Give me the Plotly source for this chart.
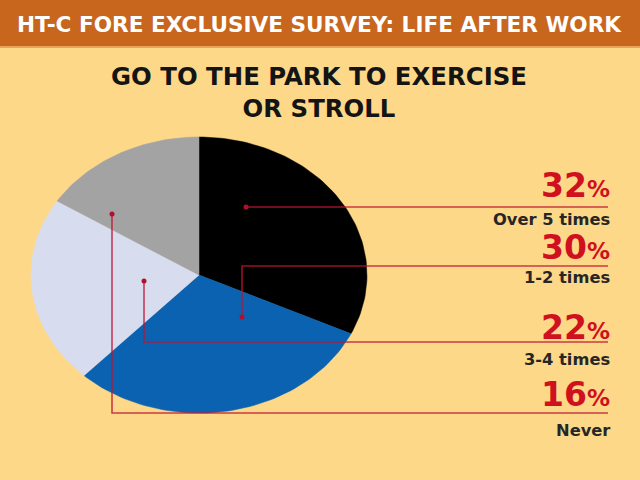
import math
import plotly.graph_objects as go

# ---- data ----
categories = ["Over 5 times", "1-2 times", "3-4 times", "Never"]
shares = [32, 30, 22, 16]
banner_text = "HT-C FORE EXCLUSIVE SURVEY: LIFE AFTER WORK"
title_text = "GO TO THE PARK TO EXERCISE<br>OR STROLL"

# ---- styles / layout positions (pixel space) ----
slice_colors = ["#000000", "#0B62B0", "#D7DCEF", "#A3A3A3"]
BG = "#FDD888"
BANNER = "#C8661E"
RED = "#D0101E"
LINE = "rgba(190,20,50,0.8)"
CX, CY, RX, RY = 199, 275, 168, 138
dot_pos = [(246, 207), (242, 317), (144, 281), (112, 214)]
line_y = [207, 266, 342, 413]
line_end_x = 608
text_right_x = 612
pct_y = [185, 247, 327, 394]
lab_y = [219, 277, 359, 430]

fig = go.Figure()

# elliptical pie slices built from the shares
total = sum(shares)
start = 0.0
for cat, val, col in zip(categories, shares, slice_colors):
    end = start + val / total * 360.0
    n = max(int((end - start) / 1.5), 2)
    xs, ys = [CX], [CY]
    for k in range(n + 1):
        t = math.radians(start + (end - start) * k / n)
        xs.append(CX + RX * math.sin(t))
        ys.append(CY - RY * math.cos(t))
    xs.append(CX)
    ys.append(CY)
    fig.add_trace(go.Scatter(x=xs, y=ys, mode="lines", fill="toself",
                             fillcolor=col, line=dict(color=col, width=0.5),
                             hoverinfo="text", text=f"{cat}: {val}%",
                             showlegend=False))
    start = end

# leader lines
for (dx, dy), ly in zip(dot_pos, line_y):
    fig.add_trace(go.Scatter(x=[dx, dx, line_end_x], y=[dy, ly, ly], mode="lines",
                             line=dict(color=LINE, width=1.6), hoverinfo="skip",
                             showlegend=False))
    fig.add_trace(go.Scatter(x=[dx], y=[dy], mode="markers",
                             marker=dict(color="#B01030", size=5), hoverinfo="skip",
                             showlegend=False))

annotations = []
for cat, val, py, ly in zip(categories, shares, pct_y, lab_y):
    annotations.append(dict(
        x=text_right_x, y=py, xref="x", yref="y", xanchor="right", yanchor="middle",
        text=f"<b>{val}<span style='font-size:23px'>%</span></b>",
        showarrow=False, font=dict(family="DejaVu Sans", size=33, color=RED)))
    annotations.append(dict(
        x=text_right_x, y=ly, xref="x", yref="y", xanchor="right", yanchor="middle",
        text=f"<b>{cat}</b>", showarrow=False,
        font=dict(family="DejaVu Sans", size=16.3, color="#262626")))

annotations.append(dict(
    x=319, y=24, xref="x", yref="y", xanchor="center", yanchor="middle",
    text=f"<b>{banner_text}</b>", showarrow=False,
    font=dict(family="DejaVu Sans", size=21.6, color="white")))
annotations.append(dict(
    x=319, y=92, xref="x", yref="y", xanchor="center", yanchor="middle",
    text=f"<b>{title_text}</b>", showarrow=False,
    font=dict(family="DejaVu Sans", size=24.4, color="#141414")))

fig.update_layout(
    width=640, height=480, margin=dict(l=0, r=0, t=0, b=0),
    paper_bgcolor=BG, plot_bgcolor=BG,
    xaxis=dict(range=[0, 640], visible=False, fixedrange=True),
    yaxis=dict(range=[480, 0], visible=False, fixedrange=True),
    shapes=[dict(type="rect", xref="x", yref="y", x0=0, x1=640, y0=0, y1=46,
                 fillcolor=BANNER, line=dict(width=0), layer="below"),
            dict(type="line", xref="x", yref="y", x0=0, x1=640, y0=47, y1=47,
                 line=dict(color="#E9A45A", width=2), layer="below")],
    annotations=annotations,
)

fig.write_html("out.html")
